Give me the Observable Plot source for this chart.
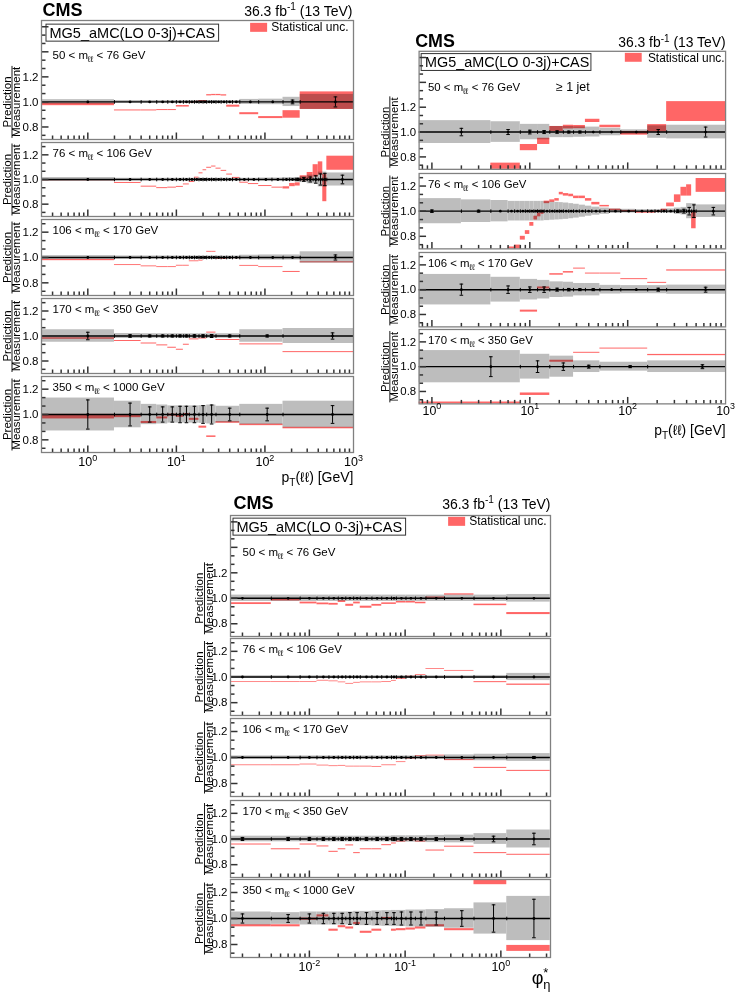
<!DOCTYPE html>
<html><head><meta charset="utf-8">
<script src="https://cdn.jsdelivr.net/npm/d3@7"></script>
<script src="https://cdn.jsdelivr.net/npm/@observablehq/plot@0.6"></script>
<style>
body{margin:0;background:#fff;}
#root{position:relative;width:737px;height:992px;overflow:hidden;background:#fff;font-family:"Liberation Sans",Arial,Helvetica,sans-serif;}
.pnl{position:absolute;}
</style></head><body><div id="root"></div>
<script>
// ---------------- bin edges ----------------
const ptEdgesFine   = [0,2,4,6,8,10,12,14,16,18,20,22,25,28,32,37,43,52,85,160,250,1000];
const ptEdgesZ      = [0,2,4,6,8,10,12,14,16,18,20,22,25,28,32,37,43,52,65,85,120,160,190,220,250,300,350,400,450,500,1000];
const ptEdgesCoarse = [0,2,4,6,8,10,12,14,18,22,28,52,160,1000];
const jetEdges      = [0,4,8,12,16,22,28,37,52,85,160,250,1000];
const jetEdgesZ     = [0,2,4,6,7,8,9,10,11,12,13,14,16,18,20,22,25,28,32,37,43,52,65,85,120,160,190,220,250,300,350,400,450,500,1000];
const jetEdgesHigh  = [0,8,16,28,52,160,1000];
const phiEdges      = [0,0.004,0.008,0.012,0.016,0.020,0.024,0.029,0.034,0.045,0.057,0.072,0.081,0.102,0.128,0.165,0.258,0.524,1.153,3.277];

// ---------------- labels ----------------
const massLabels = ["50 < m_{ℓℓ} < 76 GeV","76 < m_{ℓℓ} < 106 GeV","106 < m_{ℓℓ} < 170 GeV","170 < m_{ℓℓ} < 350 GeV","350 < m_{ℓℓ} < 1000 GeV"];
const yTickLabels = [0.8, 1.0, 1.2];
const xLabelsPt = [1, 10, 100, 1000];
const xLabelsPhi = [0.01, 0.1, 1];

// ---------------- Figure A: pT(ll), inclusive ----------------
const A1_ratio = [0.980,0.932,0.932,0.935,0.935,0.965,0.965,0.995,1.000,1.005,1.005,1.053,1.055,1.055,1.052,0.966,0.966,0.906,0.875,0.900,1.010];
const A1_stat  = [0.010,0.004,0.004,0.004,0.004,0.006,0.006,0.005,0.005,0.006,0.006,0.005,0.005,0.005,0.005,0.008,0.008,0.008,0.008,0.030,0.070];
const A1_unc   = [0.018,0.011,0.011,0.011,0.011,0.011,0.011,0.011,0.011,0.011,0.011,0.011,0.011,0.011,0.011,0.011,0.011,0.020,0.022,0.037,0.060];
const A1_err   = [0.004,0.003,0.003,0.003,0.003,0.003,0.003,0.003,0.003,0.003,0.003,0.003,0.003,0.003,0.003,0.003,0.004,0.005,0.006,0.015,0.040];

const A2_ratio = [0.995,0.972,0.942,0.930,0.934,0.940,0.960,0.980,1.015,1.050,1.075,1.095,1.105,1.088,1.070,1.040,1.013,0.974,0.963,0.947,0.934,0.932,0.955,0.960,1.010,1.030,1.070,1.090,0.930,1.132];
const A2_stat  = [0.005,0.004,0.004,0.004,0.004,0.004,0.004,0.004,0.004,0.004,0.004,0.004,0.004,0.004,0.004,0.004,0.004,0.004,0.004,0.004,0.004,0.009,0.013,0.013,0.020,0.027,0.050,0.053,0.110,0.057];
const A2_unc   = [0.016,0.010,0.010,0.010,0.010,0.010,0.010,0.010,0.010,0.010,0.010,0.010,0.010,0.010,0.010,0.010,0.010,0.010,0.010,0.012,0.012,0.015,0.015,0.015,0.025,0.035,0.035,0.060,0.060,0.053];
const A2_err   = [0.003,0.003,0.003,0.003,0.003,0.003,0.003,0.003,0.003,0.003,0.003,0.003,0.003,0.003,0.003,0.003,0.003,0.003,0.003,0.003,0.003,0.005,0.007,0.010,0.015,0.020,0.030,0.045,0.050,0.035];

const A3_ratio = [0.980,0.940,0.930,0.924,0.924,0.935,0.935,0.970,0.970,0.975,0.995,1.045,1.045,0.990,0.990,0.995,0.995,0.934,0.924,0.886,0.962];
const A3_stat  = [0.005,0.0035,0.0035,0.0035,0.0035,0.0035,0.0035,0.0035,0.0035,0.0035,0.0035,0.0035,0.0035,0.0035,0.0035,0.0035,0.0035,0.0035,0.0035,0.004,0.004];
const A3_unc   = [0.015,0.012,0.012,0.012,0.012,0.012,0.012,0.012,0.012,0.012,0.012,0.012,0.012,0.012,0.012,0.012,0.012,0.018,0.020,0.020,0.045];
const A3_err   = [0.004,0.004,0.004,0.004,0.004,0.004,0.004,0.004,0.004,0.004,0.004,0.004,0.004,0.004,0.004,0.004,0.004,0.004,0.004,0.004,0.020];

const A4_ratio = [0.980,0.960,0.940,0.925,0.906,0.890,0.930,0.973,0.980,1.027,0.968,0.933,0.871];
const A4_stat  = [0.006,0.004,0.004,0.004,0.004,0.004,0.004,0.004,0.004,0.004,0.004,0.004,0.004];
const A4_unc   = [0.050,0.020,0.018,0.018,0.018,0.018,0.018,0.018,0.018,0.018,0.018,0.050,0.060];
const A4_err   = [0.030,0.010,0.008,0.008,0.008,0.008,0.008,0.010,0.010,0.012,0.008,0.008,0.025];

const A5_ratio = [0.983,0.985,0.937,0.973,0.995,0.985,1.000,0.962,0.900,0.825,0.937,0.918,0.893];
const A5_stat  = [0.018,0.010,0.008,0.008,0.008,0.008,0.008,0.008,0.008,0.006,0.006,0.006,0.006];
const A5_unc   = [0.130,0.105,0.080,0.075,0.068,0.068,0.068,0.068,0.070,0.075,0.065,0.080,0.105];
const A5_err   = [0.115,0.090,0.060,0.060,0.060,0.065,0.065,0.065,0.070,0.075,0.050,0.050,0.070];

// ---------------- Figure B: pT(ll), >= 1 jet ----------------
const B1_ratio = [0.600,0.720,0.875,0.925,1.025,1.040,1.040,1.090,1.045,0.990,1.030,1.165];
const B1_stat  = [0.030,0.030,0.025,0.025,0.020,0.015,0.013,0.013,0.010,0.015,0.030,0.080];
const B1_unc   = [0.092,0.083,0.062,0.062,0.045,0.045,0.042,0.040,0.030,0.018,0.050,0.055];
const B1_err   = [0.030,0.020,0.015,0.012,0.010,0.008,0.008,0.006,0.006,0.006,0.020,0.040];

const B2_ratio = [0.400,0.450,0.550,0.700,0.715,0.785,0.830,0.895,0.945,0.970,0.990,1.070,1.080,1.090,1.140,1.130,1.125,1.110,1.110,1.090,1.060,1.040,1.010,1.000,0.990,0.990,0.995,1.010,1.050,1.100,1.155,1.165,0.925,1.205];
const B2_stat  = [0.015,0.015,0.015,0.015,0.015,0.015,0.015,0.015,0.015,0.015,0.015,0.010,0.010,0.010,0.010,0.010,0.010,0.010,0.010,0.010,0.010,0.006,0.006,0.006,0.006,0.006,0.006,0.006,0.015,0.030,0.035,0.045,0.065,0.055];
const B2_unc   = [0.100,0.090,0.085,0.078,0.078,0.078,0.078,0.078,0.078,0.078,0.078,0.075,0.072,0.070,0.068,0.065,0.060,0.055,0.048,0.040,0.032,0.025,0.018,0.015,0.012,0.012,0.012,0.015,0.018,0.025,0.030,0.060,0.060,0.050];
const B2_err   = [0.010,0.008,0.006,0.005,0.005,0.005,0.005,0.005,0.005,0.005,0.005,0.004,0.004,0.004,0.004,0.004,0.004,0.004,0.004,0.004,0.004,0.003,0.003,0.003,0.003,0.003,0.003,0.004,0.006,0.010,0.015,0.030,0.050,0.030];

const B3_ratio = [0.550,0.600,0.827,1.014,1.123,1.140,1.170,1.130,1.130,1.085,1.055,1.155];
const B3_stat  = [0.020,0.020,0.008,0.008,0.006,0.006,0.004,0.004,0.004,0.004,0.004,0.005];
const B3_unc   = [0.123,0.100,0.083,0.075,0.063,0.060,0.050,0.050,0.035,0.033,0.033,0.037];
const B3_err   = [0.045,0.030,0.022,0.022,0.012,0.010,0.008,0.008,0.006,0.006,0.012,0.020];

const B4_ratio = [0.705,0.778,1.044,1.112,1.146,1.094];
const B4_stat  = [0.010,0.010,0.008,0.004,0.004,0.005];
const B4_unc   = [0.130,0.100,0.085,0.047,0.036,0.047];
const B4_err   = [0.080,0.047,0.030,0.012,0.008,0.016];

// ---------------- Figure C: phi*_eta ----------------
const C1_ratio = [0.958,0.987,0.963,0.956,0.953,0.974,0.945,0.963,0.930,0.945,0.958,0.958,0.969,0.969,0.963,1.005,1.030,0.948,0.880];
const C1_stat  = [0.007,0.008,0.007,0.007,0.007,0.007,0.008,0.007,0.008,0.007,0.006,0.006,0.006,0.006,0.006,0.005,0.005,0.006,0.008];
const C1_unc   = [0.025,0.025,0.025,0.025,0.025,0.025,0.025,0.025,0.025,0.025,0.025,0.025,0.025,0.025,0.025,0.025,0.025,0.025,0.030];
const C1_err   = [0.004,0.004,0.004,0.004,0.004,0.004,0.004,0.004,0.004,0.004,0.004,0.004,0.004,0.004,0.004,0.004,0.004,0.004,0.004];

const C2_ratio = [0.960,0.960,0.960,0.971,0.966,0.958,0.947,0.955,0.958,0.958,0.960,0.970,0.984,1.003,1.016,1.063,1.048,0.960,0.940];
const C2_stat  = [0.003,0.003,0.003,0.003,0.003,0.003,0.003,0.003,0.003,0.003,0.003,0.003,0.003,0.003,0.003,0.003,0.003,0.004,0.005];
const C2_unc   = [0.010,0.010,0.010,0.010,0.010,0.010,0.010,0.010,0.010,0.010,0.010,0.010,0.010,0.010,0.010,0.010,0.010,0.012,0.028];
const C2_err   = [0.003,0.003,0.003,0.003,0.003,0.003,0.003,0.003,0.003,0.003,0.003,0.003,0.003,0.003,0.003,0.003,0.003,0.003,0.006];

const C3_ratio = [0.940,0.940,0.946,0.938,0.933,0.936,0.930,0.930,0.930,0.928,0.940,0.940,0.964,0.992,1.010,1.015,0.980,0.920,0.897];
const C3_stat  = [0.003,0.003,0.003,0.003,0.003,0.003,0.003,0.003,0.003,0.003,0.003,0.003,0.003,0.003,0.003,0.003,0.004,0.004,0.004];
const C3_unc   = [0.012,0.012,0.012,0.012,0.012,0.012,0.012,0.012,0.012,0.012,0.012,0.012,0.012,0.012,0.012,0.012,0.020,0.025,0.030];
const C3_err   = [0.004,0.004,0.004,0.004,0.004,0.004,0.004,0.004,0.004,0.004,0.004,0.004,0.004,0.004,0.004,0.004,0.004,0.004,0.008];

const C4_ratio = [0.957,0.920,0.957,0.942,0.900,0.920,0.950,0.890,0.920,0.920,0.952,0.965,0.980,0.990,0.980,0.910,0.940,0.890,0.877];
const C4_stat  = [0.004,0.004,0.004,0.004,0.004,0.004,0.004,0.004,0.004,0.004,0.004,0.004,0.004,0.004,0.004,0.004,0.004,0.004,0.004];
const C4_unc   = [0.022,0.022,0.022,0.022,0.022,0.022,0.022,0.022,0.022,0.022,0.022,0.025,0.025,0.025,0.025,0.028,0.030,0.042,0.070];
const C4_err   = [0.012,0.012,0.012,0.012,0.012,0.012,0.012,0.012,0.012,0.012,0.012,0.012,0.012,0.012,0.012,0.012,0.012,0.022,0.045];

const C5_ratio = [0.944,0.944,0.995,1.020,0.910,0.937,0.927,0.962,0.894,0.910,1.000,0.910,0.914,0.919,0.927,0.944,0.914,1.280,0.770];
const C5_stat  = [0.008,0.008,0.008,0.008,0.008,0.008,0.008,0.008,0.008,0.008,0.008,0.008,0.008,0.008,0.008,0.008,0.008,0.020,0.023];
const C5_unc   = [0.050,0.045,0.050,0.050,0.050,0.050,0.050,0.055,0.055,0.058,0.060,0.062,0.062,0.065,0.065,0.068,0.075,0.120,0.170];
const C5_err   = [0.035,0.030,0.035,0.040,0.040,0.040,0.045,0.045,0.045,0.045,0.045,0.045,0.050,0.050,0.050,0.050,0.060,0.105,0.148];

// ---------------- styles / layout ----------------
const NS = "http://www.w3.org/2000/svg";
const FONT = '"Liberation Sans", Arial, Helvetica, sans-serif';
const RED = "#ff6666", GRAY = "#bdbdbd";
const vline = {draw(ctx, size){const r=Math.sqrt(size/Math.PI); ctx.moveTo(0,-r); ctx.lineTo(0,r);}};
const hline = {draw(ctx, size){const r=Math.sqrt(size/Math.PI); ctx.moveTo(-r,0); ctx.lineTo(r,0);}};
const expFmt = d => { const e = Math.round(Math.log10(d)); return "10^{" + (e < 0 ? "-" + (-e) : e) + "}"; };

const figures = [
  {left:0, frameL:41, frameR:353, xDomain:[0.3,1000], xLabels:xLabelsPt, xTitle:"p_{T}(ℓℓ) [GeV]", xTitleSize:14, xTitleDy:25,
   frames:[[20,139],[142,216],[219,295],[298,373],[376,452]], titleDx:[-34,-25,-29.5],
   cmsDx:1, cmsDy:-5, lumiDx:-1, legDx:8, legDy:12.5, statDx:-5, statDy:7, labDx:11, labDy1:35, tickPad:5, jet:false,
   panels:[
     {edges:ptEdgesFine, ratio:A1_ratio, stat:A1_stat, unc:A1_unc, err:A1_err, label:massLabels[0]},
     {edges:ptEdgesZ, ratio:A2_ratio, stat:A2_stat, unc:A2_unc, err:A2_err, label:massLabels[1]},
     {edges:ptEdgesFine, ratio:A3_ratio, stat:A3_stat, unc:A3_unc, err:A3_err, label:massLabels[2]},
     {edges:ptEdgesCoarse, ratio:A4_ratio, stat:A4_stat, unc:A4_unc, err:A4_err, label:massLabels[3]},
     {edges:ptEdgesCoarse, ratio:A5_ratio, stat:A5_stat, unc:A5_unc, err:A5_err, label:massLabels[4]}]},
  {left:370, frameL:419, frameR:728, xDomain:[0.74,1000], xLabels:xLabelsPt, xTitle:"p_{T}(ℓℓ) [GeV]", xTitleSize:14, xTitleDy:27,
   frames:[[51,170],[173,249],[252,327],[329,404]], titleDx:[-34,-25,-29.5],
   cmsDx:-4, cmsDy:-4, lumiDx:0, legDx:6, legDy:11.5, statDx:-1, statDy:6.5, labDx:9, labDy1:36, tickPad:2, jet:true,
   panels:[
     {edges:jetEdges, ratio:B1_ratio, stat:B1_stat, unc:B1_unc, err:B1_err, label:massLabels[0]},
     {edges:jetEdgesZ, ratio:B2_ratio, stat:B2_stat, unc:B2_unc, err:B2_err, label:massLabels[1]},
     {edges:jetEdges, ratio:B3_ratio, stat:B3_stat, unc:B3_unc, err:B3_err, label:massLabels[2]},
     {edges:jetEdgesHigh, ratio:B4_ratio, stat:B4_stat, unc:B4_unc, err:B4_err, label:massLabels[3]}]},
  {left:190, frameL:230, frameR:550, xDomain:[0.0015,3.3], xLabels:xLabelsPhi, xTitle:"φ^{*}_{η}", xTitleSize:18, xTitleDy:21,
   frames:[[515,636],[638,715],[718,796],[800,877],[879,957]], titleDx:[-31,-21.5,-26],
   cmsDx:3, cmsDy:-7, lumiDx:0, legDx:6, legDy:11.5, statDx:-4, statDy:6, labDx:12, labDy1:37, tickPad:4.5, jet:false,
   panels:[
     {edges:phiEdges, ratio:C1_ratio, stat:C1_stat, unc:C1_unc, err:C1_err, label:massLabels[0]},
     {edges:phiEdges, ratio:C2_ratio, stat:C2_stat, unc:C2_unc, err:C2_err, label:massLabels[1]},
     {edges:phiEdges, ratio:C3_ratio, stat:C3_stat, unc:C3_unc, err:C3_err, label:massLabels[2]},
     {edges:phiEdges, ratio:C4_ratio, stat:C4_stat, unc:C4_unc, err:C4_err, label:massLabels[3]},
     {edges:phiEdges, ratio:C5_ratio, stat:C5_stat, unc:C5_unc, err:C5_err, label:massLabels[4]}]}
];

function makeBins(p, xmin){
  return p.ratio.map((r,i)=>({lo:Math.max(p.edges[i], xmin), hi:p.edges[i+1], c:(p.edges[i]+p.edges[i+1])/2, r, s:p.stat[i], u:p.unc[i], e:p.err[i]}));
}

function buildPanel(fig, k){
  const p = fig.panels[k];
  const first = k === 0, last = k === fig.panels.length - 1;
  const [f0, f1] = fig.frames[k];
  const yDomain = first ? [0.7, 1.65] : [0.7, 1.3];
  const [ymin, ymax] = yDomain;
  const cy = v => Math.max(ymin, Math.min(ymax, v));
  const xDomain = fig.xDomain;
  const B = makeBins(p, xDomain[0]);
  const R = B.map(d => ({...d, y1: cy(d.r - d.s), y2: cy(d.r + d.s)})).filter(d => d.y2 - d.y1 > 1e-6);
  const mt = first ? 24 : 1, mb = last ? 46 : 1;
  const W = fig.frameR - fig.left + 12;
  const ml = fig.frameL - fig.left, mr = W - (fig.frameR - fig.left);
  const H = (f1 - f0) + mt + mb;
  const innerEdges = p.edges.slice(1, -1).filter(v => v > xDomain[0]);
  const xMaj = [], xMin = [];
  for (let e = -4; e <= 4; e++) for (let m = 1; m <= 9; m++) {
    const v = +(m * Math.pow(10, e)).toPrecision(6);
    if (v <= xDomain[0] * 1.0001 || v >= xDomain[1] * 0.9999) continue;
    (m === 1 ? xMaj : xMin).push(v);
  }
  const yMaj = [], yMin = [];
  for (let n = -2; n <= 20; n++) {
    const v = +(0.8 + n * 0.2 / 3).toFixed(5);
    if (v <= ymin + 1e-6 || v >= ymax - 1e-6) continue;
    (n % 3 === 0 ? yMaj : yMin).push(v);
  }
  const caps = B.filter(d => d.e >= 0.008);
  const marks = [
    Plot.rect(B, {x1:"lo", x2:"hi", y1:d => 1 - d.u, y2:d => 1 + d.u, fill:GRAY}),
    Plot.rect(R, {x1:"lo", x2:"hi", y1:"y1", y2:"y2", fill:RED}),
    Plot.ruleY([1], {stroke:"#000", strokeWidth:1.4}),
    Plot.dot(innerEdges, {x:d => d, y:1, symbol:vline, r:1.8, stroke:"#000", fill:"none", strokeWidth:1}),
    Plot.ruleX(B, {x:"c", y1:d => cy(1 - d.e), y2:d => cy(1 + d.e), stroke:"#000", strokeWidth:1}),
    Plot.dot(caps, {x:"c", y:d => cy(1 + d.e), symbol:hline, r:1.8, stroke:"#000", fill:"none", strokeWidth:1}),
    Plot.dot(caps, {x:"c", y:d => cy(1 - d.e), symbol:hline, r:1.8, stroke:"#000", fill:"none", strokeWidth:1}),
    Plot.dot(B, {x:"c", y:1, r:1.4, fill:"#000", stroke:"none"}),
    Plot.dot(xMaj, {x:d => d, y:ymin, symbol:vline, r:3.5, dy:-3.5, stroke:"#333", fill:"none"}),
    Plot.dot(xMin, {x:d => d, y:ymin, symbol:vline, r:2, dy:-2, stroke:"#333", fill:"none"}),
    Plot.dot(yMaj, {x:xDomain[0], y:d => d, symbol:hline, r:3.5, dx:3.5, stroke:"#333", fill:"none"}),
    Plot.dot(yMin, {x:xDomain[0], y:d => d, symbol:hline, r:2, dx:2, stroke:"#333", fill:"none"}),
    Plot.frame({stroke:"#808080", strokeWidth:1.3}),
    Plot.axisY(yTickLabels, {tickFormat:d => d.toFixed(1), tickSize:0, tickPadding:3, fontSize:11.5, label:null}),
    Plot.text(["Prediction"], {text:d => d, y:1, frameAnchor:"left", dx:fig.titleDx[0], rotate:-90, textAnchor:"middle", lineAnchor:"middle", fontSize:11.5}),
    Plot.text(["Measurement"], {text:d => d, y:1, frameAnchor:"left", dx:fig.titleDx[1], rotate:-90, textAnchor:"middle", lineAnchor:"middle", fontSize:11.5}),
    Plot.dot([1], {x:xDomain[0], y:1, symbol:vline, r:36, dx:fig.titleDx[2], stroke:"#000", fill:"none", strokeWidth:0.9}),
    Plot.text([p.label], {text:d => d, frameAnchor:"top-left", dx:fig.labDx, dy:first ? fig.labDy1 : 10.5, textAnchor:"start", lineAnchor:"middle", fontSize:11.5})
  ];
  if (first) {
    marks.push(
      Plot.text(["CMS"], {text:d => d, frameAnchor:"top-left", dx:fig.cmsDx, dy:fig.cmsDy, textAnchor:"start", lineAnchor:"bottom", fontSize:18, fontWeight:"bold"}),
      Plot.text(["36.3 fb^{-1} (13 TeV)"], {text:d => d, frameAnchor:"top-right", dx:fig.lumiDx, dy:fig.cmsDy, textAnchor:"end", lineAnchor:"bottom", fontSize:14}),
      Plot.text(["MG5_aMC(LO 0-3j)+CAS"], {text:d => d, frameAnchor:"top-left", dx:fig.legDx, dy:fig.legDy, textAnchor:"start", lineAnchor:"middle", fontSize:14.5}),
      Plot.text(["Statistical unc."], {text:d => d, frameAnchor:"top-right", dx:fig.statDx, dy:fig.statDy, textAnchor:"end", lineAnchor:"middle", fontSize:12})
    );
    if (fig.jet) marks.push(Plot.text(["≥ 1 jet"], {text:d => d, frameAnchor:"top-left", dx:138, dy:36, textAnchor:"start", lineAnchor:"middle", fontSize:12.5}));
  }
  if (last) {
    marks.push(
      Plot.axisX(fig.xLabels, {tickFormat:expFmt, tickSize:0, tickPadding:fig.tickPad, fontSize:12.5, label:null}),
      Plot.text([fig.xTitle], {text:d => d, frameAnchor:"bottom-right", dy:fig.xTitleDy, textAnchor:"end", lineAnchor:"middle", fontSize:fig.xTitleSize})
    );
  }
  const svg = Plot.plot({
    width:W, height:H, marginLeft:ml, marginRight:mr, marginTop:mt, marginBottom:mb,
    x:{type:"log", domain:xDomain, axis:null},
    y:{domain:yDomain, axis:null},
    style:{fontFamily:FONT, background:"transparent", overflow:"visible", color:"#000"},
    marks
  });
  const div = document.createElement("div");
  div.className = "pnl";
  div.style.left = fig.left + "px";
  div.style.top = (f0 - mt) + "px";
  div.appendChild(svg);
  document.getElementById("root").appendChild(div);
  return svg;
}

function richify(svg){
  svg.querySelectorAll("text").forEach(t => {
    const s = t.textContent;
    if (!/[_^]\{/.test(s)) return;
    const fs = parseFloat(getComputedStyle(t).fontSize) || 12;
    while (t.firstChild) t.removeChild(t.firstChild);
    const re = /([_^])\{([^}]*)\}/g;
    let last = 0, m, cur = 0, prevSup = null;
    const add = (str, kind) => {
      const sp = document.createElementNS(NS, "tspan");
      sp.textContent = str;
      let target = 0;
      if (kind === "sub") { target = fs * 0.28; sp.setAttribute("font-size", (fs * 0.72).toFixed(2)); }
      if (kind === "sup") { target = -fs * 0.42; sp.setAttribute("font-size", (fs * 0.72).toFixed(2)); }
      const d = target - cur; if (Math.abs(d) > 1e-6) sp.setAttribute("dy", d.toFixed(2)); cur = target;
      t.appendChild(sp); return sp;
    };
    while ((m = re.exec(s))) {
      if (m.index > last) { add(s.slice(last, m.index), "n"); prevSup = null; }
      const kind = m[1] === "_" ? "sub" : "sup";
      const sp = add(m[2], kind);
      if (kind === "sub" && prevSup && m.index === last) sp.setAttribute("dx", (-prevSup.getComputedTextLength()).toFixed(2));
      prevSup = kind === "sup" ? sp : null;
      last = re.lastIndex;
    }
    if (last < s.length) add(s.slice(last), "n");
  });
}

function addRect(svg, x, y, w, h, attrs){
  const r = document.createElementNS(NS, "rect");
  r.setAttribute("x", x); r.setAttribute("y", y); r.setAttribute("width", w); r.setAttribute("height", h);
  for (const k in attrs) r.setAttribute(k, attrs[k]);
  svg.appendChild(r);
}

function decorate(svg){
  richify(svg);
  const sb = svg.getBoundingClientRect();
  svg.querySelectorAll("text").forEach(t => {
    const s = t.textContent;
    if (!s.startsWith("MG5_aMC") && !s.startsWith("Statistical")) return;
    const b = t.getBoundingClientRect();
    const x = b.left - sb.left, y = b.top - sb.top;
    if (s.startsWith("MG5_aMC")) addRect(svg, x - 3.5, y - 0.5, b.width + 7, b.height + 1, {fill:"none", stroke:"#333", "stroke-width":1});
    else addRect(svg, x - 21, y + b.height / 2 - 4.5, 17, 9, {fill:RED});
  });
  svg.querySelectorAll(`g[fill="${RED}"]`).forEach(g => g.style.mixBlendMode = "multiply");
}

for (const fig of figures) {
  fig.panels.forEach((_, k) => { const svg = buildPanel(fig, k); decorate(svg); });
}
</script></body></html>
